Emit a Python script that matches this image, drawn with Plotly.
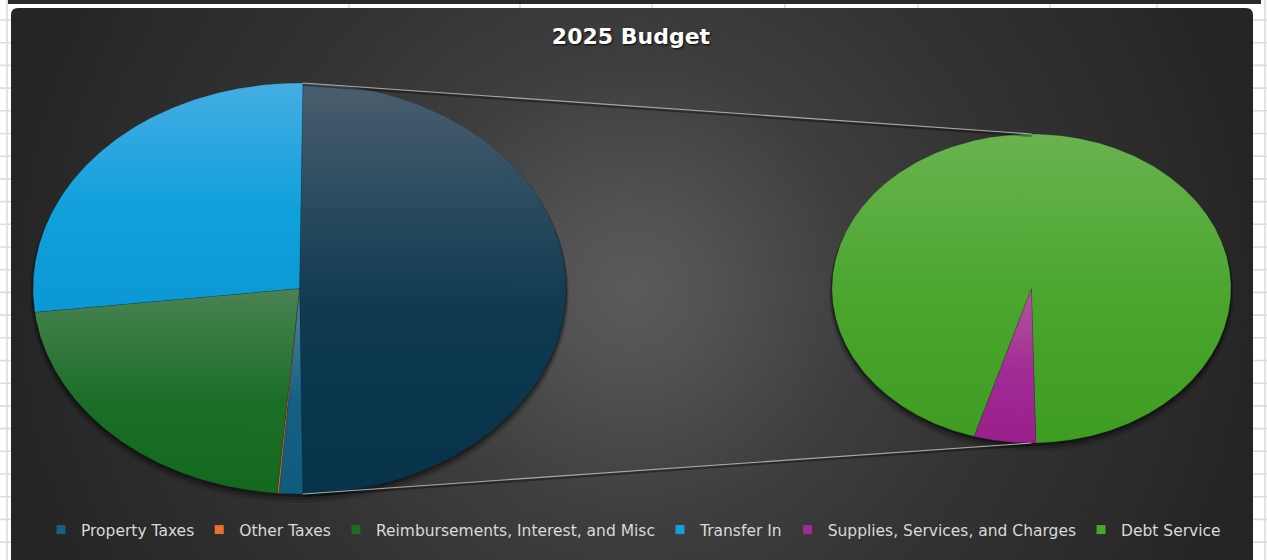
import numpy as np
import plotly.graph_objects as go

# ---- data -------------------------------------------------------------
categories = [
    "Property Taxes",
    "Other Taxes",
    "Reimbursements, Interest, and Misc",
    "Transfer In",
    "Supplies, Services, and Charges",
    "Debt Service",
]
amounts = [143000, 10000, 2183000, 2704000, 249000, 4711000]
secondary_count = 2          # last lines are broken out into the second pie
chart_title = "2025 Budget"

# ---- styling ----------------------------------------------------------
# (shade at bottom, base, tint at top) for each category
slice_colors = [
    ("#0f5a7e", "#156082", "#4f86a2"),
    ("#e06a2c", "#E97132", "#f0925e"),
    ("#126a1e", "#1c6e27", "#4a8353"),
    ("#0b99d5", "#10a0dc", "#45ade2"),
    ("#9a1f8c", "#A02B93", "#b3579f"),
    ("#3d9d21", "#4aa52d", "#68b34f"),
]
other_colors = ("#06334a", "#0f3a51", "#4a5e6e")

W, H = 1267, 560
MAIN = dict(cx=299.5, cy=288.5, rx=266.5, ry=205.5)
SECOND = dict(cx=1031.5, cy=288.5, rx=199.5, ry=154.5)
SECOND_ROTATION = 178.7      # degrees clockwise from 12 o'clock

# chart area in pixels
CX0, CX1, CY0 = 11, 1253, 8
CORNER = 7


def px(x):
    return x / W


def py(y):
    return 1 - y / H


def ellipse_pts(p, a0, a1, step=0.4):
    n = max(int(abs(a1 - a0) / step), 2) + 1
    t = np.radians(np.linspace(a0, a1, n))
    return p["cx"] + p["rx"] * np.sin(t), p["cy"] - p["ry"] * np.cos(t)


def wedge(p, a0, a1):
    xs, ys = ellipse_pts(p, a0, a1)
    return ([p["cx"]] + list(xs) + [p["cx"]], [p["cy"]] + list(ys) + [p["cy"]])


def slice_trace(p, a0, a1, colors, name):
    xs, ys = wedge(p, a0, a1)
    shade, base, tint = colors
    return go.Scatter(
        x=xs, y=ys, xaxis="x2", yaxis="y2",
        mode="lines", fill="toself", name=name, showlegend=False,
        line=dict(width=0.6, color="rgba(20,20,20,0.28)"),
        fillgradient=dict(
            type="vertical", start=max(ys), stop=min(ys),
            colorscale=[[0, shade], [0.45, base], [1, tint]],
        ),
        hoverinfo="skip",
    )


fig = go.Figure()

# ---- chart area: circular radial gradient, clipped to the chart box ----
# the background subplot spans the chart box; a square (in pixels) fill
# keeps the gradient circular
box_w = CX1 - CX0
box_h = H - CY0
glow_y = 290.0                       # pixel row of the brightest point
gy_c = (H - glow_y) / box_h          # in background-axis units
half = (box_w / 2) / box_h
fig.add_trace(go.Scatter(
    x=[0, 1, 1, 0, 0],
    y=[gy_c - half, gy_c - half, gy_c + half, gy_c + half, gy_c - half],
    xaxis="x", yaxis="y",
    mode="lines", fill="toself", line=dict(width=0),
    fillgradient=dict(type="radial", colorscale=[
        [0, "#5a5a5a"], [0.12, "#535353"], [0.225, "#4a4a4a"], [0.37, "#3e3e3e"],
        [0.6, "#333333"], [0.885, "#2a2a2a"], [1, "#252525"]]),
    showlegend=False, hoverinfo="skip",
))

# ---- soft shadows under both pies -------------------------------------
for p in (MAIN, SECOND):
    for dy, grow, alpha in ((6, 3, 0.10), (4, 2, 0.18), (2, 1, 0.30)):
        q = dict(cx=p["cx"], cy=p["cy"] + dy, rx=p["rx"] + grow, ry=p["ry"] + grow)
        xs, ys = ellipse_pts(q, 0, 360, step=1)
        fig.add_trace(go.Scatter(
            x=xs, y=ys, xaxis="x2", yaxis="y2",
            mode="lines", fill="toself", line=dict(width=0),
            fillcolor=f"rgba(0,0,0,{alpha})", showlegend=False, hoverinfo="skip",
        ))

# ---- main pie ---------------------------------------------------------
total = float(sum(amounts))
n_main = len(amounts) - secondary_count
other_total = float(sum(amounts[n_main:]))
other_span = 360.0 * other_total / total
other_start = 90.0 - other_span / 2.0
other_end = other_start + other_span

fig.add_trace(slice_trace(MAIN, other_start, other_end, other_colors, "Other"))
angle = other_end
for i in range(n_main):
    span = 360.0 * amounts[i] / total
    fig.add_trace(slice_trace(MAIN, angle, angle + span, slice_colors[i], categories[i]))
    angle += span

# ---- secondary pie ----------------------------------------------------
angle = SECOND_ROTATION
for i in range(n_main, len(amounts)):
    span = 360.0 * amounts[i] / other_total
    fig.add_trace(slice_trace(SECOND, angle, angle + span, slice_colors[i], categories[i]))
    angle += span

# ---- connector lines --------------------------------------------------
tx, ty = ellipse_pts(MAIN, other_start, other_start)
bx, by = ellipse_pts(MAIN, other_end, other_end)
sx_top, sy_top = ellipse_pts(SECOND, 0, 0)
sx_bot, sy_bot = ellipse_pts(SECOND, 180, 180)
for (x0, y0), (x1, y1) in (((tx[0], ty[0]), (sx_top[0], sy_top[0])),
                           ((bx[0], by[0]), (sx_bot[0], sy_bot[0]))):
    fig.add_trace(go.Scatter(x=[x0, x1], y=[y0 + 2, y1 + 2], xaxis="x2", yaxis="y2",
                             mode="lines", line=dict(width=2, color="rgba(0,0,0,0.35)"),
                             showlegend=False, hoverinfo="skip"))
    fig.add_trace(go.Scatter(x=[x0, x1], y=[y0, y1], xaxis="x2", yaxis="y2",
                             mode="lines", line=dict(width=1.1, color="#a8a8a8"),
                             showlegend=False, hoverinfo="skip"))

# ---- legend entries ---------------------------------------------------
for name, (shade, base, tint) in zip(categories, slice_colors):
    fig.add_trace(go.Scatter(
        x=[None], y=[None], xaxis="x2", yaxis="y2", mode="markers", name=name,
        marker=dict(symbol="square", size=9, color=base, line=dict(width=0)),
    ))

# ---- worksheet grid around the chart ----------------------------------
shapes = []
grid = dict(color="#dcdcdc", width=1.6)
for k in range(25):
    yy = 20 + 22.7 * k
    shapes.append(dict(type="line", xref="paper", yref="paper", x0=0, x1=1,
                       y0=py(yy), y1=py(yy), line=grid, layer="below"))
for xx in (7, 349, 520, 652, 785, 918, 1050, 1157, 1265):
    shapes.append(dict(type="line", xref="paper", yref="paper", x0=px(xx), x1=px(xx),
                       y0=0, y1=1, line=grid, layer="below"))
shapes.append(dict(type="rect", xref="paper", yref="paper", x0=px(8), x1=px(1261),
                   y0=py(4), y1=1.01, fillcolor="#2b2b2b", line=dict(width=0),
                   layer="below"))
# rounded top corners of the chart box
for x0, sgn in ((CX0, 1), (CX1, -1)):
    path = (f"M {px(x0)},{py(CY0)} L {px(x0 + sgn * CORNER)},{py(CY0)} "
            f"Q {px(x0)},{py(CY0)} {px(x0)},{py(CY0 + CORNER)} Z")
    shapes.append(dict(type="path", xref="paper", yref="paper", path=path,
                       fillcolor="white", line=dict(width=0), layer="above"))

fig.update_layout(
    width=W, height=H,
    margin=dict(l=0, r=0, t=0, b=0),
    paper_bgcolor="white", plot_bgcolor="rgba(0,0,0,0)",
    xaxis=dict(domain=[px(CX0), px(CX1)], range=[0, 1], visible=False, fixedrange=True),
    yaxis=dict(domain=[0, py(CY0)], range=[0, 1], visible=False, fixedrange=True),
    xaxis2=dict(domain=[0, 1], range=[0, W], visible=False, fixedrange=True,
                anchor="y2"),
    yaxis2=dict(domain=[0, 1], range=[H, 0], visible=False, fixedrange=True,
                anchor="x2"),
    shapes=shapes,
    hovermode=False,
    title=dict(
        text=chart_title, x=631 / W, xanchor="center", y=py(36), yanchor="middle",
        font=dict(family="DejaVu Sans", size=22, color="white", weight="bold",
                  shadow="1px 1px 2px rgba(0,0,0,0.9)"),
    ),
    legend=dict(
        orientation="h", x=0.5, xanchor="center", y=py(530), yanchor="middle",
        font=dict(family="DejaVu Sans", size=15.5, color="#d9d9d9"),
        bgcolor="rgba(0,0,0,0)", itemwidth=30, itemclick=False, itemdoubleclick=False,
    ),
)

fig.write_html("out.html", config={"displayModeBar": False})
